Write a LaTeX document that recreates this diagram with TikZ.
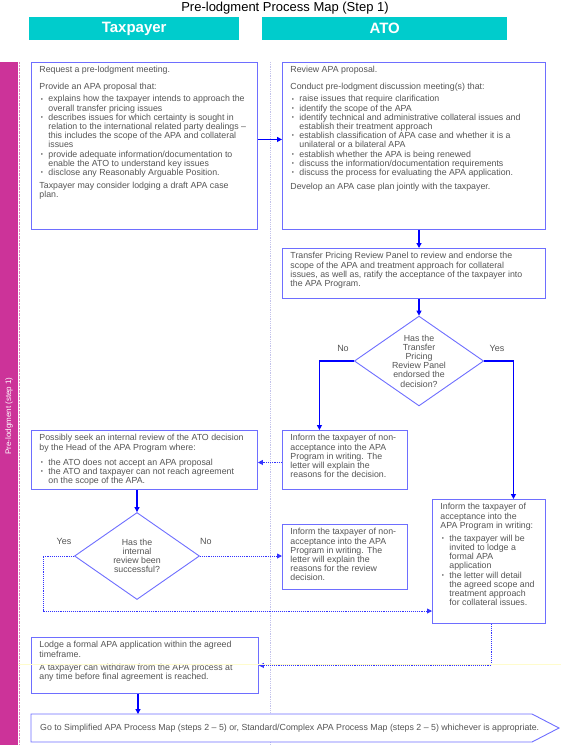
\documentclass[tikz,border=0pt]{standalone}
\usepackage{fontspec}
\setmainfont{Liberation Sans}
\usetikzlibrary{shapes.geometric, arrows.meta, positioning, calc}
\definecolor{lanecyan}{RGB}{0,204,204}
\definecolor{stepmagenta}{RGB}{204,51,153}
\definecolor{boxblue}{RGB}{110,110,255}
\definecolor{flowblue}{RGB}{0,0,255}
\definecolor{textgray}{RGB}{85,85,85}
\definecolor{divgray}{RGB}{195,195,235}
\definecolor{faintyellow}{RGB}{255,252,205}

\newcommand{\boxfont}{\fontsize{8.8}{9.2}\selectfont}
\newcommand{\bitem}[1]{\par\leavevmode\hangindent=9pt\hangafter=1\hbox to 9pt{\hspace{1.5pt}\raisebox{.8pt}{\scalebox{.7}{•}}\hfil}{\let\\\newline #1}}
\newcommand{\vgap}[1]{\par\vspace{#1}}
\newcommand{\boxpar}[3]{\makebox[#1][l]{\parbox[c][#2][t]{\dimexpr#1+20pt}{\raggedright #3}}}

\begin{document}
\begin{tikzpicture}[x=1pt, y=-1pt,
    lanehead/.style={fill=lanecyan, text=white, font=\fontsize{15}{18}\selectfont\bfseries,
        inner sep=0pt, anchor=north west, minimum height=23pt},
    procbox/.style={draw=boxblue, fill=white, line width=0.9pt, anchor=north west,
        inner xsep=8pt, inner ysep=4pt, text=textgray, font=\boxfont},
    decision/.style={diamond, draw=boxblue, fill=white, line width=0.9pt, aspect=1.44,
        inner sep=0pt, minimum width=125pt, minimum height=87pt, align=center,
        text=textgray, font=\boxfont},
    answer/.style={text=textgray, font=\fontsize{9}{10}\selectfont},
    flow/.style={flowblue, line width=1.2pt, -{Triangle[length=5pt,width=5pt]}},
    flowdot/.style={flowblue!80, line width=0.9pt, densely dotted, -{Triangle[length=5pt,width=5pt]}}]
    \useasboundingbox (0,0) rectangle (561,745);

    % Title and lanes
    \node[font=\fontsize{13}{15}\selectfont] (title) at (285,8) {Pre-lodgment Process Map (Step 1)};
    \node[lanehead, minimum width=210pt] (taxlane) at (29,17) {Taxpayer};
    \node[lanehead, minimum width=245pt] (atolane) at (262,17) {ATO};

    \fill[stepmagenta] (0,62) rectangle (18,745);
    \draw[stepmagenta!60, densely dotted] (19,62) -- (19,745);
    \node[rotate=90, text=white, font=\fontsize{8}{10}\selectfont] (steplabel) at (9,416) {Pre-lodgment (step 1)};
    \draw[divgray, densely dotted, line width=0.8pt] (270,62) -- (270,745);

    % Taxpayer lane
    \node[procbox] (proposal) at (31,62) {\boxpar{210pt}{159pt}{%
        Request a pre-lodgment meeting.
        \vgap{7.8pt}Provide an APA proposal that:
        \vgap{2.8pt}\bitem{explains how the taxpayer intends to approach the\\overall transfer pricing issues}
        \bitem{describes issues for which certainty is sought in\\relation to the international related party dealings --\\this includes the scope of the APA and collateral\\issues}
        \bitem{provide adequate information/documentation to\\enable the ATO to understand key issues}
        \bitem{disclose any Reasonably Arguable Position.}
        \vgap{3.8pt}Taxpayer may consider lodging a draft APA case\\plan.}};

    \node[procbox] (internal) at (31,430) {\boxpar{210pt}{51pt}{%
        Possibly seek an internal review of the ATO decision\\by the Head of the APA Program where:
        \vgap{5.8pt}\bitem{the ATO does not accept an APA proposal}
        \bitem{the ATO and taxpayer can not reach agreement\\on the scope of the APA.}}};

    \node[decision] (successful) at (137,556) {Has the\\internal\\review been\\successful?};

    \node[procbox] (lodge) at (31,637) {\boxpar{211pt}{48pt}{%
        Lodge a formal APA application within the agreed\\timeframe.
        \vgap{3.8pt}A taxpayer can withdraw from the APA process at\\any time before final agreement is reached.}};

    % ATO lane
    \node[procbox] (review) at (282,62) {\boxpar{247pt}{159pt}{%
        Review APA proposal.
        \vgap{7.8pt}Conduct pre-lodgment discussion meeting(s) that:
        \vgap{2.8pt}\bitem{raise issues that require clarification}
        \bitem{identify the scope of the APA}
        \bitem{identify technical and administrative collateral issues and\\establish their treatment approach}
        \bitem{establish classification of APA case and whether it is a\\unilateral or a bilateral APA}
        \bitem{establish whether the APA is being renewed}
        \bitem{discuss the information/documentation requirements}
        \bitem{discuss the process for evaluating the APA application.}
        \vgap{4.8pt}Develop an APA case plan jointly with the taxpayer.}};

    \node[procbox] (panel) at (282,248) {\boxpar{247pt}{42pt}{%
        Transfer Pricing Review Panel to review and endorse the\\scope of the APA and treatment approach for collateral\\issues, as well as, ratify the acceptance of the taxpayer into\\the APA Program.}};

    \node[decision] (endorsed) at (419,361) {Has the\\Transfer\\Pricing\\Review Panel\\endorsed the\\decision?};

    \node[procbox] (reject) at (282,430) {\boxpar{109pt}{51pt}{%
        Inform the taxpayer of non-\\acceptance into the APA\\Program in writing. The\\letter will explain the\\reasons for the decision.}};

    \node[procbox] (rejectreview) at (282,524) {\boxpar{109pt}{57pt}{%
        Inform the taxpayer of non-\\acceptance into the APA\\Program in writing. The\\letter will explain the\\reasons for the review\\decision.}};

    \node[procbox] (accept) at (432,499) {\boxpar{97pt}{116pt}{%
        Inform the taxpayer of\\acceptance into the\\APA Program in writing:
        \vgap{3.8pt}\bitem{the taxpayer will be\\invited to lodge a\\formal APA\\application}
        \bitem{the letter will detail\\the agreed scope and\\treatment approach\\for collateral issues.}}};

    % Final step
    \draw[draw=boxblue, fill=white, line width=0.9pt] (31,714) -- (532,714) -- (559,728) -- (532,742) -- (31,742) -- cycle;
    \node[anchor=west, inner sep=0pt, text=textgray, font=\boxfont] (goto) at (40,728)
        {Go to Simplified APA Process Map (steps 2 -- 5) or, Standard/Complex APA Process Map (steps 2 -- 5) whichever is appropriate.};

    % Answers
    \node[answer] (noendorse) at (343,348) {No};
    \node[answer] (yesendorse) at (497,348) {Yes};
    \node[answer] (yesinternal) at (64,541) {Yes};
    \node[answer] (nointernal) at (206,541) {No};

    % Connectors
    \coordinate (yesturn) at (43,611);
    \coordinate (gotoin) at (138,714);
    \draw[flow] ([yshift=6.5pt]proposal.east) -- ([yshift=6.5pt]review.west);
    \draw[flow] (review.south -| endorsed.north) -- (panel.north -| endorsed.north);
    \draw[flow] (panel.south -| endorsed.north) -- (endorsed.north);
    \draw[flow] (endorsed.west) -| ([xshift=-25.5pt]reject.north);
    \draw[flow] (endorsed.east) -| ([xshift=24.5pt]accept.north);
    \draw[flowdot] ([yshift=-2.5pt]reject.west) -- ([yshift=-2.5pt]reject.west -| internal.east);
    \draw[flow] (successful.north |- internal.south) -- (successful.north);
    \draw[flowdot] (successful.east) -- (successful.east -| rejectreview.west);
    \draw[flowdot] (successful.west) -| (yesturn) -- (yesturn -| accept.west);
    \draw[flowdot] ([xshift=2.5pt]accept.south) |- (lodge.east);
    \draw[flow] (lodge.south -| gotoin) -- (gotoin);

    \draw[faintyellow, line width=0.5pt] (18,664) -- (561,664);
\end{tikzpicture}
\end{document}
